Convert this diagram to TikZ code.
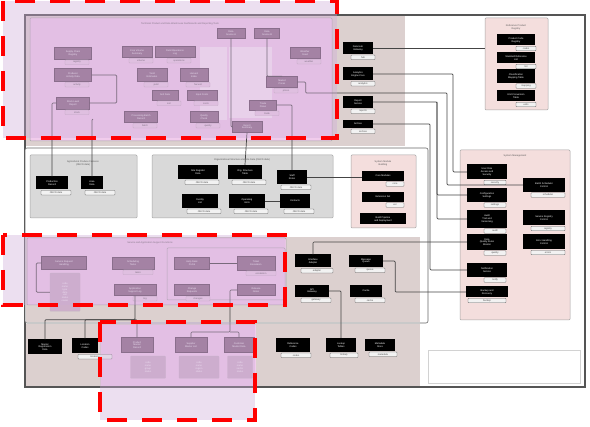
\documentclass[tikz,border=0pt]{standalone}
\usepackage{fontspec}
\setmainfont{Liberation Sans}
\usepackage{tikz}
\usetikzlibrary{positioning, backgrounds}

\definecolor{framegray}{HTML}{555555}
\definecolor{taupe}{HTML}{DCD0CF}
\definecolor{grouppink}{HTML}{F1CCEC}
\definecolor{mauve}{HTML}{8B6A86}
\definecolor{mauvetag}{HTML}{EBCDE7}
\definecolor{boxgray}{HTML}{D9D9D9}
\definecolor{syspink}{HTML}{F4DEDD}
\definecolor{hilite}{HTML}{CDAAD7}
\definecolor{linegray}{HTML}{444444}

\newcommand{\tinyfont}{\fontsize{2.4}{2.8}\selectfont}

\begin{document}
\begin{tikzpicture}[
    x=1pt, y=-1pt,
    frame/.style={draw=framegray, line width=1.5pt},
    region/.style={draw=gray!80!black, line width=0.6pt},
    group/.style={draw=gray!70, line width=0.5pt, rounded corners=1pt},
    title/.style={font=\tinyfont, text=gray!70!black, align=center},
    blk/.style={fill=black, text=white, font=\tinyfont, align=center, inner sep=0.4pt, minimum width=30pt, minimum height=12pt},
    mv/.style={fill=mauve, draw=mauve!70!black, text=white, font=\tinyfont, align=center, inner sep=0.4pt, minimum width=30pt, minimum height=11pt},
    tag/.style={draw=gray!75!black, fill=gray!10, rounded corners=0.6pt, font=\tinyfont, text=gray!60!black, inner sep=0.3pt, minimum height=4.5pt, minimum width=24pt},
    mtag/.style={tag, draw=mauve!60, fill=mauvetag},
    mlist/.style={draw=mauve!50, fill=mauvetag!70!mauve, font=\tinyfont, text=white, align=center, inner sep=0.5pt, rounded corners=0.6pt},
    link/.style={draw=linegray, line width=0.7pt, rounded corners=1pt},
    hilite box/.style={fill=hilite, fill opacity=0.38, draw=red, draw opacity=1, line width=4.5pt, dash pattern=on 20pt off 15pt}
]
\useasboundingbox (0,0) rectangle (590,427);

% regions
\draw[frame, fill=white] (25,15) rectangle (585,387);
\fill[taupe] (26,16) rectangle (405,146);
\draw[group, fill=grouppink] (30,18) rectangle (332,141);
\fill[grouppink!45!white] (200,47) rectangle (227,120);
\fill[grouppink!45!white] (229,47) rectangle (272,118);
\node (ttlA) [title] at (180,24) {Technical Product and Data Warehouse Dashboards and Reporting Tools};
\draw[region, fill=white, rounded corners=2pt] (25,148) rectangle (428,323);
\draw[group, fill=boxgray] (30,155) rectangle (137,218);
\node (ttlB) [title] at (83,163) {Agricultural Produce Features\\(OECD data)};
\draw[group, fill=boxgray] (152,155) rectangle (333,218);
\node (ttlC) [title] at (242,160) {Organizational Structure and Site Data (OECD data)};
\draw[group, fill=syspink] (351,155) rectangle (416,228);
\node (ttlM) [title] at (383,163) {System Module\\Building};
\fill[taupe] (26,237) rectangle (420,322);
\draw[group, fill=grouppink] (27,238) rectangle (286,305);
\node (ttlD) [title] at (150,243) {Service and Application Support Functions};
\draw[group] (167,248) rectangle (285,300);
\fill[taupe] (26,324) rectangle (420,386);
\fill[grouppink] (101,325) rectangle (256,386);
\draw[gray!35, line width=0.8pt] (428,350) rectangle (580,383);
\draw[group, fill=syspink] (485,18) rectangle (548,110);
\node (ttlG) [title] at (516,27) {Reference Product\\Registry};
\draw[group, fill=syspink] (460,150) rectangle (570,320);
\node (ttlS) [title] at (515,156) {System Management};

% top band, dashboards
\node (a1) [mv, minimum width=37pt, minimum height=12pt] at (73,53) {Supply Chain\\Registry};
\node (a2) [mv, minimum width=37pt, minimum height=13pt] at (73,75) {Producer\\Activity Data};
\node (a3) [mv, minimum width=33pt, minimum height=12pt] at (73,103) {Stock Level\\Report};
\node (a4) [mv] at (137,52) {Crop Volume\\Summary};
\node (a5) [mv, minimum width=40pt] at (175,52) {Field Operations\\Log};
\node (a6) [mv, minimum height=13pt] at (152,75) {Yield\\Estimates};
\node (a7) [mv, minimum width=28pt, minimum height=13pt] at (194,75) {Harvest\\Index};
\node (a8) [mv, minimum width=26pt, minimum height=10pt] at (165,95) {Soil Data};
\node (a9) [mv, minimum height=10pt] at (202,95) {Input Costs};
\node (a10) [mv, minimum width=33pt] at (141,117) {Processing Batch\\Record};
\node (a11) [mv, minimum width=28pt] at (204,117) {Quality\\Check};
\node (a12) [mv, minimum width=28pt, minimum height=10pt] at (231,33) {Data\\Source A};
\node (a13) [mv, minimum width=25pt, minimum height=10pt] at (267,33) {Data\\Source B};
\node (a14) [mv, minimum width=31pt] at (282,82) {Market\\Prices};
\node (a15) [mv, minimum width=27pt, minimum height=10pt] at (263,105) {Trade\\Flows};
\node (a16) [mv] at (247,127) {Export\\Summary};
\node (a17) [mv] at (305,53) {Weather\\Feed};
\node (a1t) [mtag, below=0.6pt of a1, xshift=4pt] {registry};
\node (a2t) [mtag, below=0.6pt of a2, xshift=4pt] {activity};
\node (a3t) [mtag, below=0.6pt of a3, xshift=4pt] {stock};
\node (a4t) [mtag, below=0.6pt of a4, xshift=4pt] {volume};
\node (a5t) [mtag, below=0.6pt of a5, xshift=4pt] {operations};
\node (a6t) [mtag, below=0.6pt of a6, xshift=4pt] {yield};
\node (a7t) [mtag, below=0.6pt of a7, xshift=4pt] {harvest};
\node (a8t) [mtag, below=0.6pt of a8, xshift=4pt] {soil};
\node (a9t) [mtag, below=0.6pt of a9, xshift=4pt] {costs};
\node (a10t) [mtag, below=0.6pt of a10, xshift=4pt] {batch};
\node (a11t) [mtag, below=0.6pt of a11, xshift=4pt] {quality};
\node (a14t) [mtag, below=0.6pt of a14, xshift=4pt] {prices};
\node (a15t) [mtag, below=0.6pt of a15, xshift=4pt] {trade};
\node (a17t) [mtag, below=0.6pt of a17, xshift=4pt] {weather};

% top band, services
\node (r1) [blk] at (358,48) {Data Hub\\Gateway};
\node (r2) [blk, minimum height=13pt] at (358,74) {Analytics\\Engine Core};
\node (r3) [blk] at (358,102) {Report\\Service};
\node (r4) [blk, minimum height=8pt] at (358,124) {Archive};
\node (r1t) [tag, below=0.6pt of r1, xshift=5pt] {hub};
\node (r2t) [tag, below=0.6pt of r2, xshift=5pt] {analytics};
\node (r3t) [tag, below=0.6pt of r3, xshift=5pt] {reports};
\node (r4t) [tag, below=0.6pt of r4, xshift=5pt] {archive};

% registry
\node (g1) [blk, minimum width=38pt, minimum height=11pt] at (516,40) {Product Code\\Registry};
\node (g2) [blk, minimum width=38pt, minimum height=11pt] at (516,58) {Standard Reference\\List};
\node (g3) [blk, minimum width=38pt, minimum height=14pt] at (516,76) {Classification\\Mapping Table};
\node (g4) [blk, minimum width=38pt, minimum height=11pt] at (516,96) {Unit Conversion\\Table};
\node (g1t) [tag, minimum width=20pt, below=0.4pt of g1, xshift=10pt] {codes};
\node (g2t) [tag, minimum width=20pt, below=0.4pt of g2, xshift=10pt] {list};
\node (g3t) [tag, minimum width=20pt, below=0.4pt of g3, xshift=10pt] {mapping};
\node (g4t) [tag, minimum width=20pt, below=0.4pt of g4, xshift=10pt] {units};

% middle row
\node (b1) [blk, minimum width=32pt, minimum height=13pt] at (52,183) {Production\\Record};
\node (b2) [blk, minimum width=22pt, minimum height=13pt] at (92,183) {Area\\Data};
\node (b1t) [tag, minimum width=30pt, below=0.6pt of b1, xshift=4pt] {OECD data};
\node (b2t) [tag, minimum width=30pt, below=0.6pt of b2, xshift=8pt] {OECD data};
\node (c1) [blk, minimum width=40pt, minimum height=14pt] at (198,172) {Site Register\\Data};
\node (c2) [blk, minimum width=34pt, minimum height=14pt] at (245,172) {Org. Structure\\Table};
\node (c3) [blk, minimum height=14pt] at (292,177) {Staff\\Roles};
\node (c4) [blk, minimum width=36pt, minimum height=14pt] at (200,201) {Facility\\List};
\node (c5) [blk, minimum width=36pt, minimum height=14pt] at (247,201) {Operating\\Units};
\node (c6) [blk, minimum height=14pt] at (295,201) {Contacts};
\node (c1t) [tag, minimum width=34pt, below=0.6pt of c1, xshift=4pt] {OECD data};
\node (c2t) [tag, minimum width=34pt, below=0.6pt of c2, xshift=4pt] {OECD data};
\node (c3t) [tag, minimum width=30pt, below=0.6pt of c3, xshift=4pt] {OECD data};
\node (c4t) [tag, minimum width=34pt, below=0.6pt of c4, xshift=4pt] {OECD data};
\node (c5t) [tag, minimum width=34pt, below=0.6pt of c5, xshift=4pt] {OECD data};
\node (c6t) [tag, minimum width=30pt, below=0.6pt of c6, xshift=4pt] {OECD data};
\node (m1) [blk, minimum width=42pt, minimum height=10pt] at (383,176) {Core Modules};
\node (m2) [blk, minimum width=42pt, minimum height=10pt] at (383,197) {Extension Set};
\node (m3) [blk, minimum width=46pt, minimum height=11pt] at (383,219) {Build Pipeline\\and Deployment};
\node (m1t) [tag, minimum width=18pt, below=0.4pt of m1, xshift=12pt] {core};
\node (m2t) [tag, minimum width=18pt, below=0.4pt of m2, xshift=12pt] {ext};

% system management
\node (s1) [blk, minimum width=40pt, minimum height=15pt] at (487,172) {User Role\\Access and\\Security};
\node (s2) [blk, minimum width=40pt, minimum height=14pt] at (487,195) {Configuration\\Settings};
\node (s3) [blk, minimum width=40pt, minimum height=18pt] at (487,219) {Audit\\Trail and\\Versioning};
\node (s4) [blk, minimum width=40pt, minimum height=16pt] at (487,242) {Data\\Quality Rules\\Monitor};
\node (s5) [blk, minimum width=40pt, minimum height=14pt] at (487,270) {Notification\\Service};
\node (s6) [blk, minimum width=42pt, minimum height=11pt] at (487,292) {Backup and\\Recovery};
\node (s7) [blk, minimum width=42pt, minimum height=14pt] at (544,185) {Batch Scheduler\\Control};
\node (s8) [blk, minimum width=42pt, minimum height=15pt] at (544,218) {Service Registry\\Control};
\node (s9) [blk, minimum width=42pt, minimum height=15pt] at (544,242) {Error Handling\\Control};
\node (s1t) [tag, minimum width=22pt, below=0.4pt of s1, xshift=8pt] {security};
\node (s2t) [tag, minimum width=22pt, below=0.4pt of s2, xshift=8pt] {settings};
\node (s3t) [tag, minimum width=22pt, below=0.4pt of s3, xshift=8pt] {audit};
\node (s4t) [tag, minimum width=22pt, below=0.4pt of s4, xshift=8pt] {quality};
\node (s5t) [tag, minimum width=22pt, below=0.4pt of s5, xshift=8pt] {notify};
\node (s6t) [tag, minimum width=38pt, below=0.4pt of s6] {backup};
\node (s7t) [tag, minimum width=34pt, below=0.4pt of s7, xshift=4pt] {scheduler};
\node (s8t) [tag, minimum width=34pt, below=0.4pt of s8, xshift=4pt] {registry};
\node (s9t) [tag, minimum width=34pt, below=0.4pt of s9, xshift=4pt] {errors};

% support row
\node (d1) [mv, minimum width=45pt, minimum height=13pt] at (64,263) {Service Request\\Handling};
\node (d1l) [mlist, minimum width=30pt, minimum height=38pt, anchor=north] at (65,273) {code\\name\\type\\date\\unit\\status\\owner};
\node (d2) [mv, minimum width=42pt, minimum height=12pt] at (133,263) {Scheduling\\Tasks};
\node (d3) [mv, minimum width=35pt, minimum height=12pt] at (192,263) {Help Desk\\Portal};
\node (d4) [mv, minimum width=38pt, minimum height=14pt] at (256,263) {Ticket\\Escalation};
\node (d5) [mv, minimum width=42pt] at (135,290) {Application\\Support Log};
\node (d6) [mv, minimum width=35pt] at (192,290) {Change\\Requests};
\node (d7) [mv, minimum width=38pt] at (256,290) {Release\\Notes};
\node (d2t) [mtag, minimum width=30pt, below=0.6pt of d2, xshift=5pt] {tasks};
\node (d4t) [mtag, minimum width=30pt, below=0.6pt of d4, xshift=5pt] {escalation};
\node (d5t) [mtag, minimum width=24pt, below=0.6pt of d5, xshift=10pt] {log};
\node (d6t) [mtag, minimum width=24pt, below=0.6pt of d6, xshift=6pt] {changes};
\node (e1) [blk, minimum width=36pt, minimum height=13pt] at (313,261) {Interface\\Adapter};
\node (e2) [blk, minimum width=34pt, minimum height=12pt] at (366,261) {Message\\Queue};
\node (e3) [blk, minimum width=34pt, minimum height=12pt] at (312,291) {API\\Gateway};
\node (e4) [blk, minimum width=32pt, minimum height=12pt] at (366,291) {Cache};
\node (e1t) [tag, minimum width=32pt, below=0.6pt of e1, xshift=4pt] {adapter};
\node (e2t) [tag, minimum width=30pt, below=0.6pt of e2, xshift=4pt] {queue};
\node (e3t) [tag, minimum width=30pt, below=0.6pt of e3, xshift=4pt] {gateway};
\node (e4t) [tag, minimum width=30pt, below=0.6pt of e4, xshift=4pt] {cache};

% master data row
\node (f1) [blk, minimum width=34pt, minimum height=15pt] at (45,347) {Master\\Registration\\Data};
\node (f2) [blk, minimum width=26pt, minimum height=15pt] at (85,346) {Location\\Codes};
\node (f2t) [tag, minimum width=34pt, below=0.6pt of f2, xshift=10pt] {locations};
\node (f3) [mv, minimum width=32pt, minimum height=15pt] at (137,345) {Product\\Master\\Record};
\node (f4) [mv, minimum width=32pt, minimum height=15pt] at (191,345) {Supplier\\Master List};
\node (f5) [mv, minimum width=30pt, minimum height=15pt] at (239,345) {Customer\\Master Data};
\node (f3l) [mlist, minimum width=35pt, minimum height=22pt, anchor=north] at (148,356) {code\\name\\group\\status};
\node (f4l) [mlist, minimum width=40pt, minimum height=22pt, anchor=north] at (199,356) {code\\name\\region\\status};
\node (f5l) [mlist, minimum width=25pt, minimum height=22pt, anchor=north] at (240,356) {code\\name\\sector\\status};
\node (f6) [blk, minimum width=34pt, minimum height=14pt] at (293,345) {Reference\\Codes};
\node (f7) [blk, minimum width=30pt, minimum height=14pt] at (341,345) {Lookup\\Tables};
\node (f8) [blk, minimum width=30pt, minimum height=12pt] at (380,345) {Metadata\\Store};
\node (f6t) [tag, minimum width=30pt, below=0.6pt of f6, xshift=3pt] {codes};
\node (f7t) [tag, minimum width=28pt, below=0.6pt of f7, xshift=3pt] {lookup};
\node (f8t) [tag, minimum width=28pt, below=0.6pt of f8, xshift=3pt] {metadata};

% connectors
\coordinate (k1) at (447,93);
\coordinate (k2) at (437,102);
\coordinate (regW) at (485,48);
\coordinate (jn) at (230,332);
\draw[link] (a2.east) -- ++(25,0) |- (a3.east);
\draw[link] (a3.west) -| (b1.north);
\draw[link] (a3.south) ++(20,10) -| (b2.north);
\draw[link] (a12.south) |- (a16.west);
\draw[link] (a13.south) |- (a14.north);
\draw[link] (a16.south) -- (c2.north);
\draw[link] (a15.east) -| (c3.north);
\draw[link] (a14.east) -| ++(8,11) -- (k1) |- (s7.west);
\draw[link] (r1.east) -- (regW);
\draw[link] (r2.east) -| (453,160) |- (s1.west);
\draw[link] (r3.east) -- (k2) |- (s2.west);
\draw[link] (k2) |- (s3.west);
\draw[link] (r4.east) -| (430,230) |- (s5.west);
\draw[link] (c3.east) -- (c3.east -| m1.west);
\draw[link] (c5.east) -- (c6.west);
\draw[link] (d3.east) -- (d4.west);
\draw[link] (d1.west) -- ++(-5,0) |- (d1l.west);
\draw[link] (e1.north) |- (s4.west);
\draw[link] (e2.east) -- ++(12,0) |- (s6.west);
\draw[link] (d5.south) -- ++(0,24) -| (f1.north);
\draw[link] (d5.south) ++(0,24) -| (f2.north);
\draw[link] (d5.south) ++(0,24) -| (f3.north);
\draw[link] (d7.west) -| (jn) -| (f4.north);
\draw[link] (jn) -| (f5.north);
\draw[link] (e3.east) -| (f7.north);

% highlights
\draw[hilite box] (3,1) rectangle (337,138);
\draw[hilite box] (3,235) rectangle (285,305);
\draw[hilite box] (100,322) rectangle (255,420);
\end{tikzpicture}
\end{document}
